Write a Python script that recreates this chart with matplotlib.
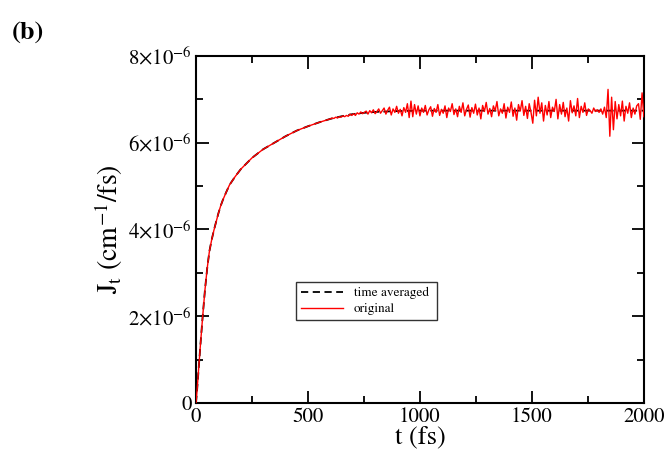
import numpy as np
import matplotlib
matplotlib.use("Agg")
import matplotlib.pyplot as plt
from matplotlib.ticker import MultipleLocator

plt.rcParams['font.family'] = 'STIXGeneral'
plt.rcParams['mathtext.fontset'] = 'stix'

# rising part (J in units of 1e-6 cm^-1/fs)
t_rise = [0, 5, 10, 15, 20, 30, 40, 50, 60, 70, 80, 90, 100, 110, 120, 135, 150, 175,
          200, 250, 300, 350, 400, 450, 500, 550]
j_rise = [0, 0.3, 0.65, 1.0, 1.35, 2.0, 2.6, 3.1, 3.5, 3.76, 3.98, 4.18, 4.37, 4.54, 4.68, 4.86, 5.03, 5.22,
          5.39, 5.65, 5.85, 6.0, 6.15, 6.28, 6.38, 6.47]

# time averaged curve after the rise
t_avg_tail = [600, 650, 700, 750, 800, 900, 1000, 1100, 1200, 1300, 1400,
              1500, 1600, 1700, 1800, 1900, 2000]
j_avg_tail = [6.55, 6.61, 6.66, 6.69, 6.71, 6.73, 6.74, 6.74, 6.74, 6.74, 6.74,
              6.74, 6.74, 6.74, 6.74, 6.74, 6.74]

# original (noisy) curve, sampled every 8 fs from 600 to 2000 fs
t_noise = np.arange(600, 2001, 8)
j_noise = [
    6.55, 6.57, 6.56, 6.59, 6.57, 6.60, 6.59, 6.62, 6.60, 6.63,
    6.61, 6.66, 6.63, 6.67, 6.63, 6.69, 6.66, 6.71, 6.67, 6.70,
    6.73, 6.66, 6.74, 6.69, 6.76, 6.67, 6.72, 6.78, 6.68, 6.74,
    6.80, 6.66, 6.75, 6.82, 6.64, 6.78, 6.70, 6.84, 6.68, 6.77,
    6.62, 6.81, 6.70, 6.90, 6.58, 6.96, 6.60, 6.88, 6.66, 6.85,
    6.62, 6.80, 6.70, 6.86, 6.64, 6.76, 6.83, 6.61, 6.79, 6.70,
    6.88, 6.63, 6.77, 6.68, 6.85, 6.58, 6.80, 6.72, 6.90, 6.65,
    6.78, 6.60, 6.84, 6.70, 6.92, 6.62, 6.77, 6.87, 6.59, 6.81,
    6.68, 6.89, 6.64, 6.80, 6.55, 6.86, 6.72, 6.93, 6.66, 6.79,
    6.60, 6.85, 6.74, 6.95, 6.62, 6.78, 6.68, 6.90, 6.57, 6.82,
    6.70, 6.94, 6.61, 6.80, 6.52, 6.88, 6.73, 6.97, 6.63, 6.84,
    6.56, 6.90, 6.70, 6.45, 6.98, 6.62, 7.05, 6.68, 6.92, 6.50,
    6.86, 6.64, 6.95, 6.58, 6.82, 6.72, 7.00, 6.55, 6.88, 6.66,
    6.93, 6.60, 6.80, 6.50, 6.97, 6.69, 6.85, 6.62, 7.02, 6.58,
    6.84, 6.70, 6.92, 6.63, 6.78, 6.74, 6.68, 6.80, 6.72, 6.76,
    6.70, 6.78, 6.66, 6.82, 6.58, 7.23, 6.15, 7.05, 6.30, 6.95,
    6.55, 6.88, 6.62, 6.96, 6.50, 6.84, 6.68, 6.92, 6.58, 6.80,
    6.66, 6.85, 6.90, 6.54, 7.15, 6.60,
]

yticks = [0, 2, 4, 6, 8]
ytick_labels = ['0', r'$2{\times}10^{-6}$', r'$4{\times}10^{-6}$',
                r'$6{\times}10^{-6}$', r'$8{\times}10^{-6}$']
xticks = [0, 500, 1000, 1500, 2000]

t_avg = list(t_rise) + t_avg_tail
j_avg = list(j_rise) + j_avg_tail
t_orig = list(t_rise) + list(t_noise)
j_orig = list(j_rise) + j_noise

fig = plt.figure(figsize=(6.7, 4.53), dpi=100)
ax = fig.add_axes([0.2925, 0.1104, 0.6685, 0.766])

ax.plot(t_avg, j_avg, color='black', linestyle=(0, (4, 2.5)), linewidth=1.3,
        label='time averaged', zorder=2)
ax.plot(t_orig, j_orig, color='red', linewidth=1.0, label='original', zorder=3)

ax.set_xlim(0, 2000)
ax.set_ylim(0, 8)
ax.set_xticks(xticks)
ax.set_yticks(yticks)
ax.set_yticklabels(ytick_labels)
ax.xaxis.set_minor_locator(MultipleLocator(250))
ax.yaxis.set_minor_locator(MultipleLocator(1))
ax.tick_params(which='both', direction='in', top=True, right=True, width=1.3)
ax.tick_params(which='major', length=9, labelsize=15, pad=3)
ax.tick_params(which='minor', length=5)
for s in ax.spines.values():
    s.set_linewidth(1.5)

ax.set_xlabel('t (fs)', fontsize=19, labelpad=-1)
ax.set_ylabel(r'J$_\mathrm{t}$ (cm$^{-1}$/fs)', fontsize=20, labelpad=2)

leg = ax.legend(loc='lower left', bbox_to_anchor=(0.224, 0.239, 0.314, 0.11),
                mode='expand', fontsize=9.5, frameon=True, fancybox=False,
                borderaxespad=0, handlelength=3.2, labelspacing=0.3,
                borderpad=0.35)
leg.get_frame().set_edgecolor('black')
leg.get_frame().set_linewidth(1.0)

fig.text(0.018, 0.915, '(b)', fontsize=19, fontweight='bold')

fig.savefig('out.png', dpi=100)
